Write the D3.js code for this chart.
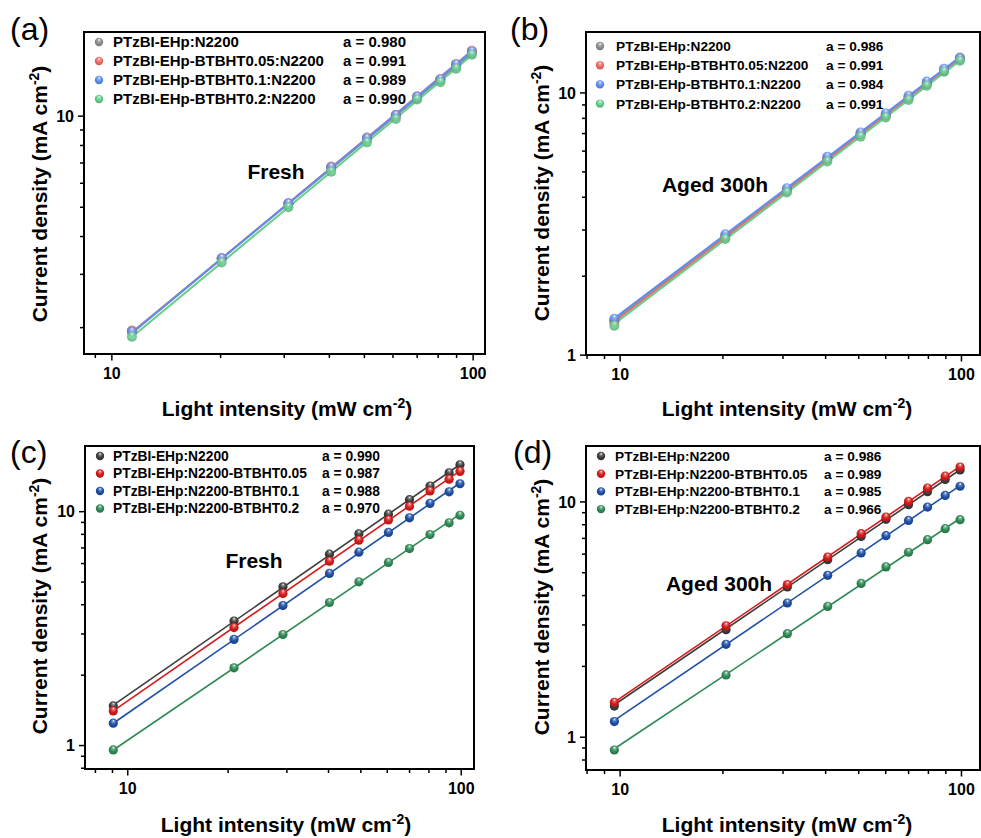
<!DOCTYPE html>
<html>
<head>
<meta charset="utf-8">
<script src="https://cdn.jsdelivr.net/npm/d3@7/dist/d3.min.js"></script>
<style>
  body { margin: 0; background: #fff; }
  svg text { font-family: "Liberation Sans", Arial, Helvetica, sans-serif; }
</style>
</head>
<body>
<svg id="fig" width="981" height="838"></svg>
<script>
// ---- data -------------------------------------------------------------
// light intensity (mW cm^-2) used in each panel
const intensityA = [11.4, 20.2, 30.9, 40.6, 51.0, 61.3, 70.2, 81.4, 90.0, 99.5];
const intensityB = [9.65, 20.4, 30.9, 40.6, 50.8, 60.2, 70.2, 79.4, 89.2, 99.3];
const intensityC = [9.08, 20.9, 29.3, 40.4, 49.5, 60.7, 70.2, 80.9, 92.3, 99.5];
const intensityD = [9.65, 20.5, 31.0, 40.7, 51.0, 60.3, 70.2, 79.8, 89.9, 99.4];

// series names
const namesDonorDoped = ["PTzBI-EHp:N2200", "PTzBI-EHp-BTBHT0.05:N2200",
                         "PTzBI-EHp-BTBHT0.1:N2200", "PTzBI-EHp-BTBHT0.2:N2200"];
const namesAcceptorDoped = ["PTzBI-EHp:N2200", "PTzBI-EHp:N2200-BTBHT0.05",
                            "PTzBI-EHp:N2200-BTBHT0.1", "PTzBI-EHp:N2200-BTBHT0.2"];

// current density (mA cm^-2)
const jscA = [
  [1.95, 3.37, 5.10, 6.74, 8.38, 9.95, 11.4, 13.1, 14.5, 16.1],
  [1.94, 3.38, 5.13, 6.79, 8.46, 10.05, 11.56, 13.2, 14.8, 16.4],
  [1.93, 3.38, 5.13, 6.75, 8.42, 10.05, 11.56, 13.2, 14.8, 16.3],
  [1.86, 3.27, 4.98, 6.53, 8.16, 9.75, 11.3, 12.9, 14.3, 15.9]
];
const jscB = [
  [1.35, 2.84, 4.25, 5.60, 6.95, 8.20, 9.55, 10.8, 12.1, 13.6],
  [1.33, 2.81, 4.22, 5.58, 6.92, 8.17, 9.52, 10.8, 12.1, 13.4],
  [1.37, 2.88, 4.31, 5.69, 7.04, 8.32, 9.71, 11.0, 12.3, 13.5],
  [1.29, 2.76, 4.15, 5.45, 6.78, 8.03, 9.35, 10.6, 12.0, 13.2]
];
const jscC = [
  [1.47, 3.39, 4.75, 6.55, 8.00, 9.71, 11.2, 12.8, 14.6, 15.8],
  [1.40, 3.18, 4.45, 6.11, 7.52, 9.18, 10.5, 12.2, 13.7, 14.8],
  [1.24, 2.83, 3.95, 5.42, 6.68, 8.11, 9.37, 10.8, 12.1, 13.1],
  [0.953, 2.14, 2.97, 4.07, 4.99, 6.04, 6.92, 7.94, 8.92, 9.61]
];
const jscD = [
  [1.35, 2.85, 4.33, 5.65, 7.10, 8.39, 9.68, 11.0, 12.4, 13.6],
  [1.40, 2.96, 4.43, 5.80, 7.29, 8.58, 10.0, 11.4, 12.8, 14.0],
  [1.16, 2.47, 3.70, 4.85, 6.04, 7.15, 8.30, 9.46, 10.6, 11.6],
  [0.878, 1.83, 2.74, 3.58, 4.48, 5.27, 6.08, 6.88, 7.66, 8.36]
];

// power-law exponents (J ∝ P^a)
const slopeA = [0.980, 0.991, 0.989, 0.990];
const slopeB = [0.986, 0.991, 0.984, 0.991];
const slopeC = [0.990, 0.987, 0.988, 0.970];
const slopeD = [0.986, 0.989, 0.985, 0.966];

const conditionLabels = ["Fresh", "Aged 300h", "Fresh", "Aged 300h"];
const panelLetters = ["(a)", "(b)", "(c)", "(d)"];

// ---- styling ----------------------------------------------------------
const paleColors = ["#8e8e8e", "#f06b6b", "#5e8ff0", "#63cf8a"];
const deepColors = ["#3c3c3c", "#d61a1a", "#1f4fa6", "#2f8a55"];

const svg = d3.select("#fig");
const defs = svg.append("defs");

function sphere(id, color) {
  const g = defs.append("radialGradient").attr("id", id)
    .attr("cx", "50%").attr("cy", "45%").attr("r", "60%")
    .attr("fx", "52%").attr("fy", "22%");
  g.append("stop").attr("offset", "0%").attr("stop-color", "#ffffff");
  g.append("stop").attr("offset", "22%").attr("stop-color", d3.interpolateRgb(color, "#ffffff")(0.35));
  g.append("stop").attr("offset", "55%").attr("stop-color", color);
  g.append("stop").attr("offset", "100%").attr("stop-color", d3.color(color).darker(0.6));
}
paleColors.forEach((c, i) => sphere("pale" + i, c));
deepColors.forEach((c, i) => sphere("deep" + i, c));

// ---- panel layout -----------------------------------------------------
const panels = [
  { letter: panelLetters[0], note: conditionLabels[0], x: intensityA, ys: jscA, slopes: slopeA,
    names: namesDonorDoped, palette: "pale", colors: paleColors,
    box: [84, 32, 485, 354], xDom: [8.40, 108.2], yDom: [1.63, 18.9],
    letterPos: [10, 40], notePos: [276, 179], yTitle: [47, 194], xTitle: [287, 416],
    legend: { mx: 99, tx: 113, ax: 343, y0: 42, dy: 19, fs: 15 } },
  { letter: panelLetters[1], note: conditionLabels[1], x: intensityB, ys: jscB, slopes: slopeB,
    names: namesDonorDoped, palette: "pale", colors: paleColors,
    box: [586, 32, 980, 355], xDom: [7.97, 113.7], yDom: [0.997, 17.0],
    letterPos: [510, 40], notePos: [715, 192], yTitle: [549, 193], xTitle: [787, 416],
    legend: { mx: 600, tx: 616, ax: 826, y0: 46, dy: 19.2, fs: 13.7 } },
  { letter: panelLetters[2], note: conditionLabels[2], x: intensityC, ys: jscC, slopes: slopeC,
    names: namesAcceptorDoped, palette: "deep", colors: deepColors,
    box: [85, 446, 474, 769], xDom: [7.47, 109.6], yDom: [0.79, 19.0],
    letterPos: [10, 463], notePos: [254, 568], yTitle: [47, 606], xTitle: [286, 832],
    legend: { mx: 100, tx: 113, ax: 322, y0: 456, dy: 17.5, fs: 13.8 } },
  { letter: panelLetters[3], note: conditionLabels[3], x: intensityD, ys: jscD, slopes: slopeD,
    names: namesAcceptorDoped, palette: "deep", colors: deepColors,
    box: [586, 446, 980, 770], xDom: [7.97, 113.7], yDom: [0.722, 17.2],
    letterPos: [513, 463], notePos: [719, 591], yTitle: [549, 607], xTitle: [787, 832],
    legend: { mx: 601, tx: 615, ax: 824, y0: 456, dy: 17.7, fs: 13.7 } }
];

function logTicks(dom) {
  const major = [], minor = [];
  for (let e = -1; e <= 3; e++) {
    for (let k = 1; k <= 9; k++) {
      const v = k * Math.pow(10, e);
      if (v >= dom[0] * 0.999 && v <= dom[1] * 1.001) (k === 1 ? major : minor).push(v);
    }
  }
  return { major, minor };
}

function drawPanel(p) {
  const [L, T, R, B] = p.box;
  const x = d3.scaleLog().domain(p.xDom).range([L, R]);
  const y = d3.scaleLog().domain(p.yDom).range([B, T]);
  const g = svg.append("g");

  // axes: minor and major ticks, pointing outward
  const xt = logTicks(p.xDom), yt = logTicks(p.yDom);
  const fmt = d3.format("d");
  const styleAxis = sel => {
    sel.select(".domain").remove();
    sel.selectAll("line").attr("stroke", "#000").attr("stroke-width", 1.5);
  };
  g.append("g").attr("transform", `translate(0,${B})`)
    .call(d3.axisBottom(x).tickValues(xt.minor).tickSize(4).tickFormat(""))
    .call(styleAxis);
  g.append("g").attr("transform", `translate(0,${B})`)
    .call(d3.axisBottom(x).tickValues(xt.major).tickSize(6.5).tickFormat(fmt))
    .call(styleAxis)
    .call(s => s.selectAll("text").attr("y", 25).attr("dy", 0)
      .attr("font-size", 16).attr("font-weight", "bold").attr("fill", "#000"));
  g.append("g").attr("transform", `translate(${L},0)`)
    .call(d3.axisLeft(y).tickValues(yt.minor).tickSize(4).tickFormat(""))
    .call(styleAxis);
  g.append("g").attr("transform", `translate(${L},0)`)
    .call(d3.axisLeft(y).tickValues(yt.major).tickSize(6).tickFormat(fmt))
    .call(styleAxis)
    .call(s => s.selectAll("text").attr("x", -10).attr("dy", "0.36em")
      .attr("font-size", 16).attr("font-weight", "bold").attr("fill", "#000"));

  // frame
  g.append("rect").attr("x", L).attr("y", T).attr("width", R - L).attr("height", B - T)
    .attr("fill", "none").attr("stroke", "#000").attr("stroke-width", 2);

  // fitted power-law lines, slope fixed to the stated exponent
  p.ys.forEach((ys, i) => {
    const a = p.slopes[i];
    const lx = p.x.map(Math.log10), ly = ys.map(Math.log10);
    const b = d3.mean(ly) - a * d3.mean(lx);
    const ends = [p.x[0], p.x[p.x.length - 1]].map(v => [v, Math.pow(10, b + a * Math.log10(v))]);
    g.append("path")
      .attr("d", d3.line().x(d => x(d[0])).y(d => y(d[1]))(ends))
      .attr("stroke", p.colors[i]).attr("stroke-width", p.palette === "pale" ? 2 : 1.6)
      .attr("fill", "none");
  });

  // measured points
  p.ys.forEach((ys, i) => {
    g.append("g").selectAll("circle").data(ys).join("circle")
      .attr("cx", (d, j) => x(p.x[j])).attr("cy", d => y(d))
      .attr("r", p.palette === "pale" ? 5 : 4.6)
      .attr("fill", `url(#${p.palette}${i})`)
      .attr("fill-opacity", p.palette === "pale" ? 0.85 : 1);
  });

  // legend
  const lg = p.legend;
  p.names.forEach((name, i) => {
    const cy = lg.y0 + i * lg.dy;
    g.append("circle").attr("cx", lg.mx).attr("cy", cy).attr("r", 4.2)
      .attr("fill", `url(#${p.palette}${i})`);
    g.append("text").attr("x", lg.tx).attr("y", cy).attr("dy", "0.36em")
      .attr("font-size", lg.fs).attr("font-weight", "bold").text(name);
    g.append("text").attr("x", lg.ax).attr("y", cy).attr("dy", "0.36em")
      .attr("font-size", lg.fs).attr("font-weight", "bold")
      .text(`a = ${p.slopes[i].toFixed(3)}`);
  });

  // condition note
  g.append("text").attr("x", p.notePos[0]).attr("y", p.notePos[1])
    .attr("text-anchor", "middle").attr("font-size", 21).attr("font-weight", "bold")
    .text(p.note);

  // panel letter
  g.append("text").attr("x", p.letterPos[0]).attr("y", p.letterPos[1])
    .attr("font-size", 32).text(p.letter);

  // axis titles
  const xt2 = g.append("text").attr("x", p.xTitle[0]).attr("y", p.xTitle[1])
    .attr("text-anchor", "middle").attr("font-size", 21).attr("font-weight", "bold");
  xt2.append("tspan").text("Light intensity (mW cm");
  xt2.append("tspan").attr("dy", -8).attr("font-size", 14).text("-2");
  xt2.append("tspan").attr("dy", 8).text(")");

  const yt2 = g.append("text")
    .attr("transform", `translate(${p.yTitle[0]},${p.yTitle[1]}) rotate(-90)`)
    .attr("text-anchor", "middle").attr("font-size", 21).attr("font-weight", "bold");
  yt2.append("tspan").text("Current density (mA cm");
  yt2.append("tspan").attr("dy", -8).attr("font-size", 14).text("-2");
  yt2.append("tspan").attr("dy", 8).text(")");
}

panels.forEach(drawPanel);
</script>
</body>
</html>
